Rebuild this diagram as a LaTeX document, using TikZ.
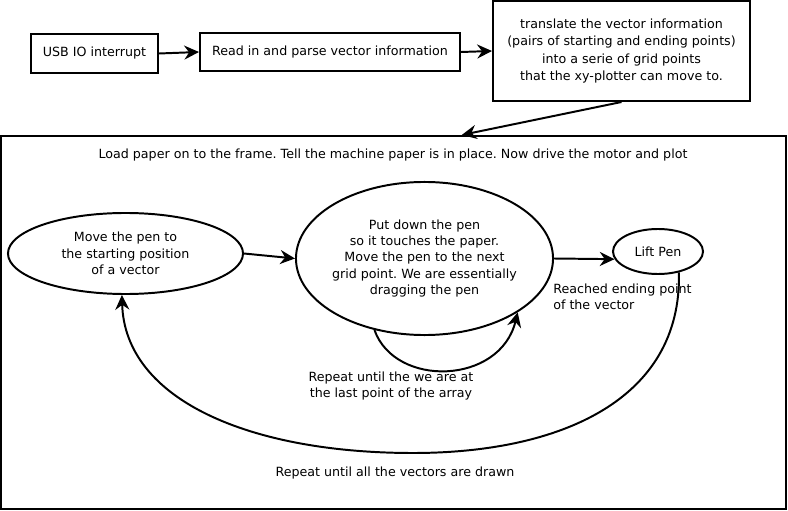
\documentclass[tikz,border=0pt]{standalone}
\usepackage{fontspec}
\setmainfont{DejaVu Sans}
\usetikzlibrary{shapes,arrows.meta,positioning,calc}
\frenchspacing

\begin{document}
\begin{tikzpicture}[
    x=0.025cm, y=-0.025cm,
    font=\fontsize{9}{11.6}\selectfont,
    block/.style={rectangle, draw=black, line width=1.4pt, align=center, inner sep=0pt},
    stage/.style={ellipse, draw=black, line width=1.4pt, align=center, inner sep=0pt},
    arrow/.style={-{Stealth[length=10.5pt, width=10pt, inset=3.5pt]}, line width=1.4pt},
    note/.style={align=center, inner sep=0pt}
]

% Page
\path[fill=white, use as bounding box] (0,0) rectangle (788,511);

% Input chain
\node[block, minimum width=3.175cm, minimum height=0.975cm] (usb) at (94.5,53.5) {USB IO interrupt};
\node[block, minimum width=6.5cm, minimum height=0.95cm] (read) at (330,52) {Read in and parse vector information};
\node[block, minimum width=6.425cm, minimum height=2.5cm, font=\fontsize{9}{12.2}\selectfont] (translate) at (621.5,51) {translate the vector information\\(pairs of starting and ending points)\\into a serie of grid points\\that the xy-plotter can move to.};

% Plotting frame
\node[block, minimum width=19.625cm, minimum height=9.325cm] (frame) at (393.5,322.5) {};
\node[note] (title) at (393,155) {Load paper on to the frame. Tell the machine paper is in place. Now drive the motor and plot};

% States
\node[stage, minimum width=5.875cm, minimum height=2.025cm] (move) at (125.5,253.5) {Move the pen to\\the starting position\\of a vector};
\node[stage, minimum width=6.425cm, minimum height=3.825cm, inner xsep=-12pt] (drag) at (424.5,258.5) {Put down the pen\\so it touches the paper.\\Move the pen to the next\\grid point. We are essentially\\dragging the pen};
\node[stage, minimum width=2.25cm, minimum height=1.125cm] (lift) at (658,251.5) {Lift Pen};

% Transitions
\draw[arrow] (usb.east) -- (read.west);
\draw[arrow] (read.east) -- (translate.west);
\draw[arrow] (translate.south) -- (frame.70);
\draw[arrow] (move.east) -- (drag.west);
\draw[arrow] (drag.east) -- (lift.190);
\draw[arrow] (drag.235) .. controls (395,388) and (500,385) .. (drag.330);
\draw[arrow] (lift.315) .. controls (682,400) and (560,453) .. (413,453)
    .. controls (250,453) and (125,400) .. (move.265);

% Annotations
\node[note, anchor=west, align=left] (reached) at (553,297) {Reached ending point\\of the vector};
\node[note] (inner) at (391,386) {Repeat until the we are at\\the last point of the array};
\node[note] (outer) at (395,473) {Repeat until all the vectors are drawn};

\end{tikzpicture}
\end{document}
